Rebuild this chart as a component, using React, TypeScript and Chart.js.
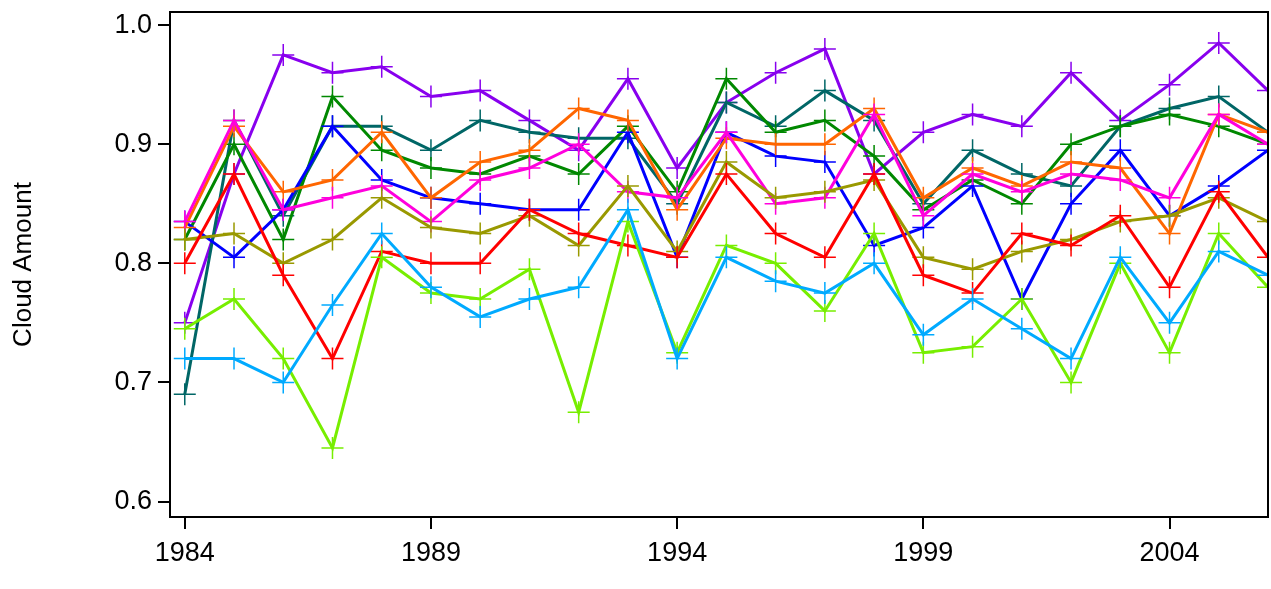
import { useEffect, useRef } from "react"
import { Chart, registerables } from "chart.js"

Chart.register(...registerables)

const years = Array.from({ length: 23 }, (_, i) => 1984 + i)
const xTicks = [1984, 1989, 1994, 1999, 2004]
const yTicks = [0.6, 0.7, 0.8, 0.9, 1.0]

const purple = [0.75, 0.875, 0.975, 0.96, 0.965, 0.94, 0.945, 0.92, 0.895, 0.955, 0.88, 0.935, 0.96, 0.98, 0.875, 0.91, 0.925, 0.915, 0.96, 0.92, 0.95, 0.985, 0.945]
const teal = [0.69, 0.92, 0.84, 0.915, 0.915, 0.895, 0.92, 0.91, 0.905, 0.905, 0.85, 0.935, 0.915, 0.945, 0.92, 0.85, 0.895, 0.875, 0.865, 0.915, 0.93, 0.94, 0.91]
const green = [0.82, 0.9, 0.82, 0.94, 0.895, 0.88, 0.875, 0.89, 0.875, 0.915, 0.86, 0.955, 0.91, 0.92, 0.89, 0.845, 0.87, 0.85, 0.9, 0.915, 0.925, 0.915, 0.9]
const orange = [0.83, 0.915, 0.86, 0.87, 0.91, 0.855, 0.885, 0.895, 0.93, 0.92, 0.845, 0.905, 0.9, 0.9, 0.93, 0.855, 0.88, 0.865, 0.885, 0.88, 0.825, 0.925, 0.91]
const magenta = [0.835, 0.92, 0.845, 0.855, 0.865, 0.835, 0.87, 0.88, 0.9, 0.86, 0.855, 0.91, 0.85, 0.855, 0.925, 0.84, 0.875, 0.86, 0.875, 0.87, 0.855, 0.925, 0.9]
const blue = [0.835, 0.805, 0.845, 0.915, 0.87, 0.855, 0.85, 0.845, 0.845, 0.91, 0.805, 0.91, 0.89, 0.885, 0.815, 0.83, 0.865, 0.77, 0.85, 0.895, 0.84, 0.865, 0.895]
const olive = [0.82, 0.825, 0.8, 0.82, 0.855, 0.83, 0.825, 0.84, 0.815, 0.865, 0.81, 0.885, 0.855, 0.86, 0.87, 0.805, 0.795, 0.81, 0.82, 0.835, 0.84, 0.855, 0.835]
const red = [0.8, 0.875, 0.79, 0.72, 0.81, 0.8, 0.8, 0.845, 0.825, 0.815, 0.805, 0.875, 0.825, 0.805, 0.875, 0.79, 0.775, 0.825, 0.815, 0.84, 0.78, 0.86, 0.805]
const lime = [0.745, 0.77, 0.72, 0.645, 0.805, 0.775, 0.77, 0.795, 0.675, 0.835, 0.725, 0.815, 0.8, 0.76, 0.825, 0.725, 0.73, 0.77, 0.7, 0.8, 0.725, 0.825, 0.78]
const skyblue = [0.72, 0.72, 0.7, 0.765, 0.825, 0.78, 0.755, 0.77, 0.78, 0.845, 0.72, 0.805, 0.785, 0.775, 0.8, 0.74, 0.77, 0.745, 0.72, 0.805, 0.75, 0.81, 0.79]

const series: [number[], string][] = [
  [skyblue, "#00aaff"],
  [lime, "#77ee00"],
  [red, "#ff0000"],
  [olive, "#999900"],
  [magenta, "#ff00dd"],
  [orange, "#ff6600"],
  [blue, "#0000ff"],
  [green, "#008800"],
  [teal, "#006666"],
  [purple, "#8800ee"],
]

const frame = {
  id: "frame",
  afterDraw(chart: Chart) {
    const { ctx, chartArea: a } = chart
    ctx.save()
    ctx.strokeStyle = "#000"
    ctx.lineWidth = 2
    ctx.strokeRect(a.left, a.top, a.right - a.left, a.bottom - a.top)
    ctx.restore()
  },
}

export default function App() {
  const ref = useRef<HTMLCanvasElement>(null)

  useEffect(() => {
    if (!ref.current) return
    const font = { family: "Liberation Sans, Arial, sans-serif", size: 27 }
    const chart = new Chart(ref.current, {
      type: "line",
      data: {
        datasets: series.map(([vals, color]) => ({
          data: vals.map((v, i) => ({ x: years[i], y: v })),
          borderColor: color,
          backgroundColor: color,
          borderWidth: 3,
          pointStyle: "cross",
          pointRadius: 11,
          pointBorderWidth: 1.5,
          fill: false,
          tension: 0,
        })),
      },
      options: {
        animation: false,
        responsive: true,
        maintainAspectRatio: false,
        layout: { autoPadding: false, padding: { top: 12, right: 3, left: 4, bottom: 0 } },
        plugins: { legend: { display: false }, tooltip: { enabled: false } },
        scales: {
          x: {
            type: "linear",
            min: 1983.7,
            max: 2006,
            afterBuildTicks: (s: any) => { s.ticks = xTicks.map((v) => ({ value: v })) },
            afterFit: (s: any) => { s.height = 72; s.paddingLeft = 0; s.paddingRight = 0 },
            border: { display: false },
            grid: { drawOnChartArea: false, tickLength: 12, color: "#000", lineWidth: 2 },
            ticks: { color: "#000", font, padding: 8, maxRotation: 0, callback: (v: any) => String(v) },
          },
          y: {
            min: 0.587,
            max: 1.011,
            afterBuildTicks: (s: any) => { s.ticks = yTicks.map((v) => ({ value: v })) },
            afterFit: (s: any) => { s.width = 166; s.paddingTop = 0; s.paddingBottom = 0 },
            border: { display: false },
            grid: { drawOnChartArea: false, tickLength: 12, color: "#000", lineWidth: 2 },
            ticks: { color: "#000", font, padding: 6, callback: (v: any) => Number(v).toFixed(1) },
            title: { display: true, text: "Cloud Amount", color: "#000", font: { ...font, size: 26 }, padding: { bottom: 26 } },
          },
        },
      },
      plugins: [frame],
    })
    return () => chart.destroy()
  }, [])

  return (
    <div style={{ position: "fixed", inset: 0, background: "#fff" }}>
      <canvas ref={ref} />
    </div>
  )
}
